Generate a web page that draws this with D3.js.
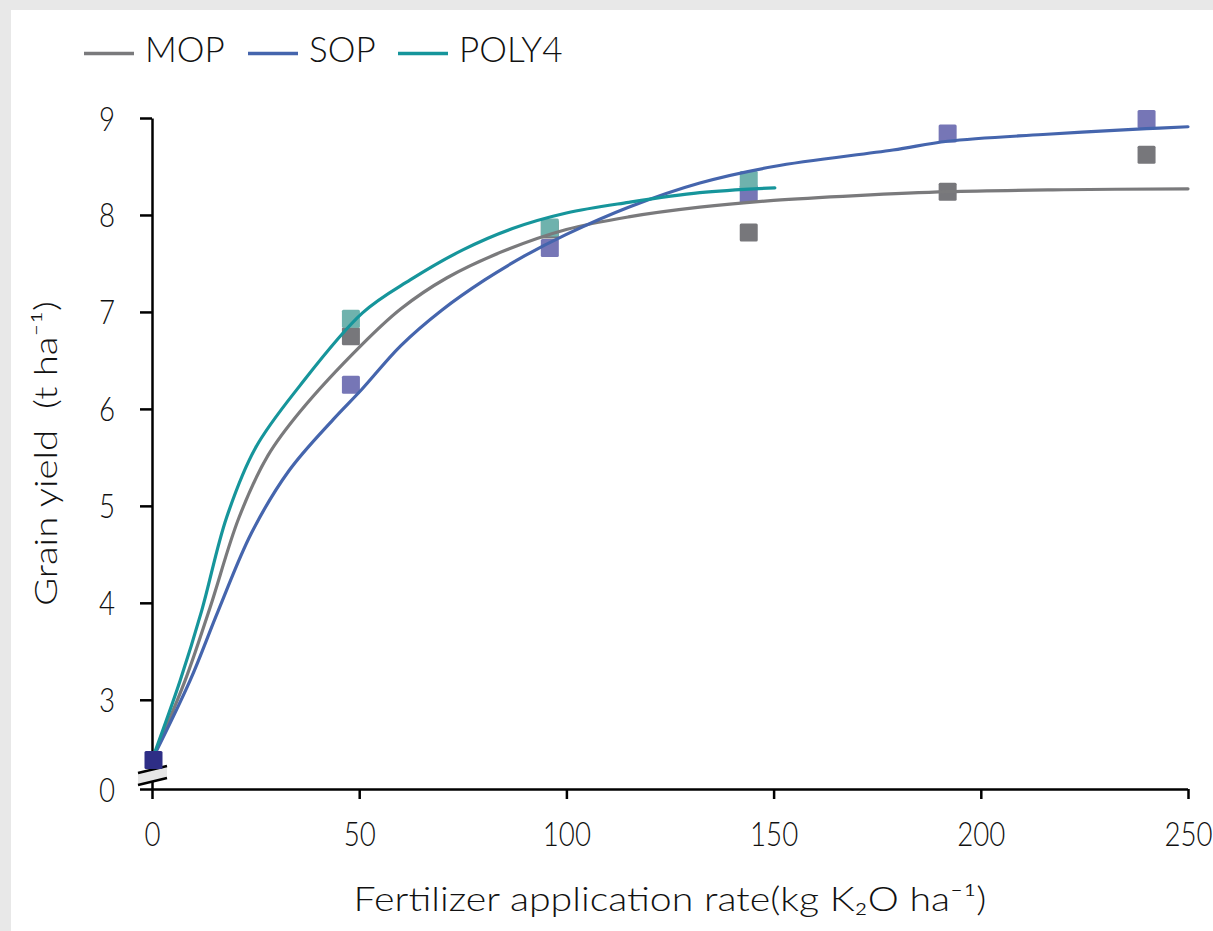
<!DOCTYPE html>
<html><head><meta charset="utf-8">
<script src="https://cdn.jsdelivr.net/npm/d3@7"></script>
<style>
html,body{margin:0;padding:0;background:#e8e8e8;}
svg{display:block;}
text{font-family:Lato, "Open Sans", sans-serif;fill:#111;font-weight:300;white-space:pre;}
</style></head>
<body>
<svg id="chart" width="1213" height="931"></svg>
<script>
// ---- data ----
const seriesNames = ["MOP", "SOP", "POLY4"];
const rates = [0, 48, 96, 144, 192, 240];
const mopYield = [null, 6.75, 7.85, 7.82, 8.24, 8.62];
const sopYield = [null, 6.25, 7.66, 8.22, 8.84, 8.99];
const poly4Yield = [null, 6.93, 7.87, 8.36, null, null];
const controlRate = [0];
const controlYield = [2.38];

// fitted response curves
const mopCurveX = [0, 8, 14, 21, 28, 35.7, 50.6, 60, 71.1, 85, 100, 115, 132.2, 150, 170, 192, 220, 250];
const mopCurveY = [2.38, 3.2, 3.95, 4.88, 5.52, 5.97, 6.66, 7.03, 7.35, 7.63, 7.85, 7.98, 8.08, 8.15, 8.20, 8.24, 8.26, 8.27];
const sopCurveX = [0, 9.2, 16, 24, 33, 43.7, 50.6, 60, 70, 80.3, 90, 100, 115, 132.2, 150, 178.8, 192, 215, 240, 250];
const sopCurveY = [2.38, 3.2, 3.92, 4.72, 5.36, 5.89, 6.2, 6.65, 7.02, 7.33, 7.58, 7.8, 8.08, 8.33, 8.5, 8.67, 8.76, 8.83, 8.89, 8.91];
const polyCurveX = [0, 6.8, 12, 18, 25, 35.7, 50.8, 62.3, 75, 87, 100, 115, 132.2, 150.3];
const polyCurveY = [2.38, 3.2, 3.92, 4.88, 5.6, 6.24, 6.99, 7.33, 7.64, 7.86, 8.02, 8.13, 8.23, 8.28];

const xTickValues = [0, 50, 100, 150, 200, 250];
const yTickValues = [3, 4, 5, 6, 7, 8, 9];
const yBreakValue = 2.08;          // where the broken axis shows "0"
const yBreakLabel = "0";
const xTitle = "Fertilizer application rate(kg K₂O ha⁻¹)";
const yTitle = "Grain yield  (t ha⁻¹)";

// ---- styles ----
const lineColors = {MOP: "#7a7a7c", SOP: "#4565ad", POLY4: "#16959b"};
const markerColors = {MOP: "#77777b", SOP: "#7676b6", POLY4: "#6fb2ad"};
const controlColor = "#2e2e86";

const svg = d3.select("#chart");
svg.append("rect").attr("x", 0).attr("y", 0).attr("width", 1213).attr("height", 931).attr("fill", "#e8e8e8");
svg.append("rect").attr("x", 11).attr("y", 10).attr("width", 1213).attr("height", 931).attr("fill", "#ffffff");

const x = d3.scaleLinear().domain([0, 250]).range([152, 1188]);
const y = d3.scaleLinear().domain([yBreakValue, 9]).range([789, 118]);

const TSX = 0.84; // horizontal squeeze of tick labels

// x axis
const xAxis = svg.append("g").attr("transform", `translate(0,${y(yBreakValue)})`)
  .call(d3.axisBottom(x).tickValues(xTickValues).tickSize(10).tickSizeOuter(0).tickFormat(d3.format("d")));
xAxis.select(".domain").attr("d", `M${x(0) - 12},0.5H${x(250)}`).attr("stroke", "#000").attr("stroke-width", 2.5);
xAxis.selectAll(".tick line").attr("stroke", "#000").attr("stroke-width", 2.5);
xAxis.selectAll(".tick text").attr("font-size", 33).attr("y", 0).attr("dy", 0)
  .attr("transform", `translate(0,57) scale(${TSX},1)`).attr("font-family", "Lato").attr("fill", "#111");

// y axis
const yAxis = svg.append("g").attr("transform", `translate(${x(0)},0)`)
  .call(d3.axisLeft(y).tickValues([yBreakValue].concat(yTickValues)).tickSize(12).tickSizeOuter(0)
    .tickFormat(d => d === yBreakValue ? yBreakLabel : d3.format("d")(d)));
yAxis.select(".domain").attr("stroke", "#000").attr("stroke-width", 2.5);
yAxis.selectAll(".tick line").attr("stroke", "#000").attr("stroke-width", 2.5)
  .filter(d => d === yBreakValue).remove();
yAxis.selectAll(".tick text").attr("font-size", 33).attr("x", 0).attr("dy", 0)
  .attr("text-anchor", "end")
  .attr("transform", `translate(-37,12) scale(${TSX},1)`).attr("font-family", "Lato").attr("fill", "#111");

// axis break mark
const bx = x(0), by = y(yBreakValue);
svg.append("path")
  .attr("d", `M${bx - 14},${by - 16}L${bx + 15},${by - 23}L${bx + 15},${by - 11}L${bx - 14},${by - 4}Z`)
  .attr("fill", "#e6e6e6");
svg.append("path").attr("d", `M${bx - 14},${by - 16}L${bx + 15},${by - 23}`).attr("stroke", "#000").attr("stroke-width", 2.5);
svg.append("path").attr("d", `M${bx - 14},${by - 4}L${bx + 15},${by - 11}`).attr("stroke", "#000").attr("stroke-width", 2.5);

// markers
const MS = 18;
const markerSets = [
  {name: "MOP", vals: mopYield},
  {name: "SOP", vals: sopYield},
  {name: "POLY4", vals: poly4Yield}
];
markerSets.forEach(s => {
  svg.append("g").selectAll("rect")
    .data(rates.map((r, i) => ({r, v: s.vals[i]})).filter(d => d.v != null))
    .join("rect")
    .attr("x", d => x(d.r) - MS / 2).attr("y", d => y(d.v) - MS / 2)
    .attr("width", MS).attr("height", MS).attr("rx", 1.5)
    .attr("fill", markerColors[s.name]);
});

// curves
const curves = [
  {name: "MOP", xs: mopCurveX, ys: mopCurveY},
  {name: "SOP", xs: sopCurveX, ys: sopCurveY},
  {name: "POLY4", xs: polyCurveX, ys: polyCurveY}
];
const lineGen = d3.line().x(d => x(d[0])).y(d => y(d[1])).curve(d3.curveCatmullRom.alpha(0.5));
curves.forEach(c => {
  svg.append("path").datum(c.xs.map((v, i) => [v, c.ys[i]]))
    .attr("d", lineGen).attr("fill", "none")
    .attr("stroke", lineColors[c.name]).attr("stroke-width", 3.2)
    .attr("stroke-linecap", "round").attr("stroke-linejoin", "round");
});

// control point
svg.append("g").selectAll("rect").data(controlRate.map((r, i) => ({r, v: controlYield[i]})))
  .join("rect")
  .attr("x", d => x(d.r) - MS / 2 + 1.5).attr("y", d => y(d.v) - MS / 2)
  .attr("width", MS).attr("height", MS).attr("rx", 1.5).attr("fill", controlColor);

// axis titles
svg.append("text").attr("transform", `translate(${(x(0) + x(250)) / 2},911) scale(1.19,1)`)
  .attr("text-anchor", "middle").attr("font-size", 33).text(xTitle);
svg.append("text").attr("transform", `translate(57,${(y(yBreakValue) + y(9)) / 2}) rotate(-90) scale(1.2,1)`)
  .attr("text-anchor", "middle").attr("font-size", 32).text(yTitle);

// legend
const legendX = [84, 248, 398];
const legend = svg.append("g");
seriesNames.forEach((n, i) => {
  legend.append("line").attr("x1", legendX[i]).attr("x2", legendX[i] + 50)
    .attr("y1", 53.5).attr("y2", 53.5).attr("stroke", lineColors[n]).attr("stroke-width", 3.5);
  legend.append("text").attr("x", legendX[i] + 61).attr("y", 61.5).attr("font-size", 35).text(n);
});
</script>
</body></html>
